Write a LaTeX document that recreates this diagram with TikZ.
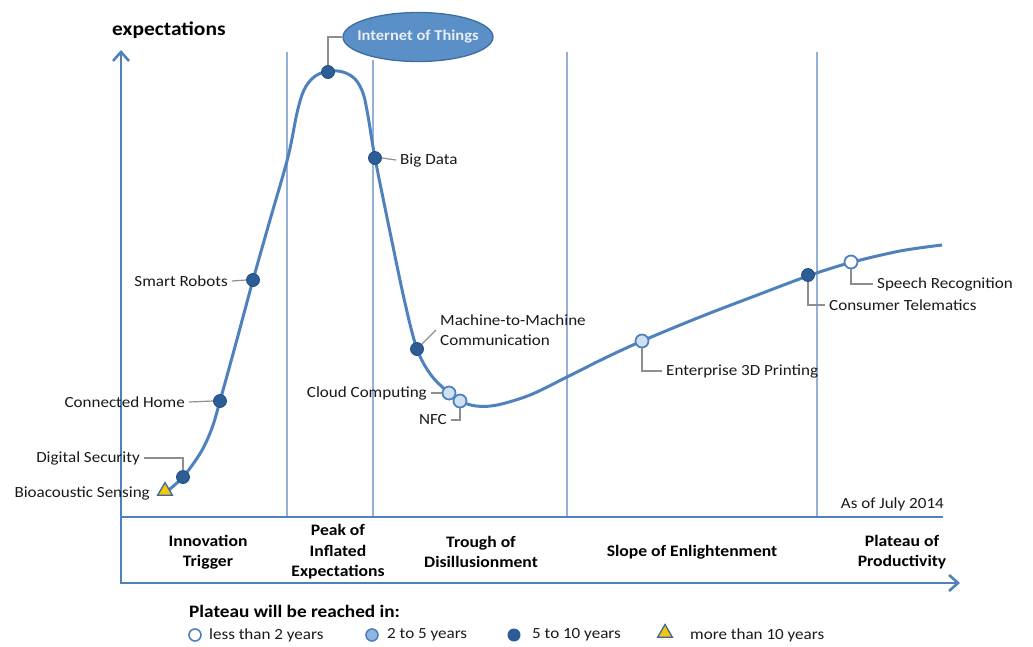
\documentclass[tikz,border=0pt]{standalone}
\usepackage{fontspec}
\setmainfont{Carlito}[FakeStretch=1.1]
\usetikzlibrary{arrows.meta,shapes.geometric}
\definecolor{axisblue}{HTML}{4F81BD}
\definecolor{phaseblue}{HTML}{95B0D6}
\definecolor{dotblue}{HTML}{2C5D94}
\definecolor{dotedge}{HTML}{24507F}
\definecolor{lightfill}{HTML}{CFE0F3}
\definecolor{midfill}{HTML}{8DB4E2}
\definecolor{leadgrey}{HTML}{8E8E8E}
\definecolor{ellfill}{HTML}{5B8FC8}
\definecolor{elledge}{HTML}{3D6E9E}
\definecolor{trifill}{HTML}{F2C80F}
\tikzset{
  axis/.style={draw=axisblue, line width=2.6pt},
  phase/.style={draw=phaseblue, line width=1.3pt},
  hype/.style={draw=axisblue, line width=3pt, line join=round},
  lead/.style={draw=leadgrey, line width=1.2pt},
  lbl/.style={font=\fontsize{15.5}{17}\selectfont, text=black!90, inner ysep=1pt, inner xsep=4pt},
  phaselbl/.style={font=\bfseries\fontsize{16}{20.5}\selectfont, align=center, inner sep=0pt},
  darkdot/.style={circle, fill=dotblue, draw=dotedge, line width=0.8pt, minimum size=13pt, inner sep=0pt},
  opendot/.style={circle, fill=white, draw=axisblue, line width=1.8pt, minimum size=13pt, inner sep=0pt},
  lightdot/.style={circle, fill=lightfill, draw=axisblue, line width=1.8pt, minimum size=13pt, inner sep=0pt},
  middot/.style={circle, fill=midfill, draw=axisblue, line width=1.8pt, minimum size=13pt, inner sep=0pt},
  tri/.style={regular polygon, regular polygon sides=3, fill=trifill, draw=axisblue!80!black, line width=1.3pt, minimum size=17pt, inner sep=0pt},
}
\begin{document}
\begin{tikzpicture}[x=1pt,y=-1pt]
\useasboundingbox (0,0) rectangle (1033,646);

% phase separators
\draw[phase] (287,52) -- (287,517);
\draw[phase] (373,60) -- (373,517);
\draw[phase] (567,52) -- (567,517);
\draw[phase] (817,52) -- (817,517);

% axes and phase band
\draw[axis, -{Straight Barb[length=9pt,width=16pt]}] (121,584) -- (121,50);
\draw[axis, -{Straight Barb[length=9pt,width=16pt]}] (120,583) -- (960,583);
\draw[axis] (121,517) -- (943,517);

\node[font=\bfseries\fontsize{19.5}{22}\selectfont, anchor=base west, inner sep=0pt] (ylabel) at (112,35) {expectations};

% hype curve
\draw[hype] plot[smooth, tension=0.55] coordinates {
  (165,493) (183,477) (201,452) (212,428) (220,401) (236,343) (253,280)
  (270,220) (288,157) (297,113) (304,90) (314,77) (328,71) (343,72)
  (355,79) (363,93) (368,116) (375,158) (390,232) (405,303) (417,349)
  (431,375) (449,393) (460,401) (476,406) (497,405) (530,395) (567,377)
  (605,358) (642,341) (700,317) (760,294) (808,276) (849,263) (900,251) (942,245)};

% technologies on the curve
\node[tri] (bio) at (165,491) {};
\node[darkdot] (dsec) at (183,477) {};
\node[darkdot] (chome) at (220,401) {};
\node[darkdot] (robots) at (253,280) {};
\node[darkdot] (iot) at (328,72) {};
\node[darkdot] (bigdata) at (375,158) {};
\node[darkdot] (m2m) at (417,349) {};
\node[lightdot] (cloud) at (449,393) {};
\node[lightdot] (nfc) at (460,401) {};
\node[lightdot] (print3d) at (642,341) {};
\node[darkdot] (telem) at (808,275) {};
\node[opendot] (speech) at (851,262) {};

% labels
\node[ellipse, fill=ellfill, draw=elledge, line width=1.3pt, minimum width=150pt, minimum height=49pt, inner sep=0pt] (iotlbl) at (418,37) {};
\node[font=\bfseries\fontsize{15}{17}\selectfont, text=white!85!ellfill, inner sep=0pt] (iottext) at (iotlbl.center) {Internet of Things};
\node[lbl, anchor=west] (bigdatalbl) at (396,160) {Big Data};
\node[lbl, anchor=east] (robotslbl) at (232,281) {Smart Robots};
\node[lbl, anchor=east] (chomelbl) at (189,402) {Connected Home};
\node[lbl, anchor=east] (dseclbl) at (144,458) {Digital Security};
\node[lbl, anchor=east] (biolbl) at (154,493) {Bioacoustic Sensing};
\node[lbl, anchor=west, align=left, font=\fontsize{15.5}{20}\selectfont] (m2mlbl) at (436,330) {Machine-to-Machine\\Communication};
\node[lbl, anchor=east] (cloudlbl) at (431,393) {Cloud Computing};
\node[lbl, anchor=east] (nfclbl) at (451,420) {NFC};
\node[lbl, anchor=west] (print3dlbl) at (662,371) {Enterprise 3D Printing};
\node[lbl, anchor=west] (telemlbl) at (825,305) {Consumer Telematics};
\node[lbl, anchor=west] (speechlbl) at (873,284) {Speech Recognition};
\node[lbl, anchor=east] (datelbl) at (948,504) {As of July 2014};

% leader lines
\draw[lead] (iot.north) |- (iotlbl.west);
\draw[lead] (bigdata.east) -- (bigdatalbl.west);
\draw[lead] (robotslbl.east) -- (robots.west);
\draw[lead] (chomelbl.east) -- (chome.west);
\draw[lead] (dseclbl.east) -| (dsec.north);
\draw[lead] (m2m.north east) -- (m2mlbl.west);
\draw[lead] (cloudlbl.east) -- (cloud.west);
\draw[lead] (nfclbl.east) -| (nfc.south);
\draw[lead] (print3d.south) |- (print3dlbl.west);
\draw[lead] (telem.south) |- (telemlbl.west);
\draw[lead] (speech.south) |- (speechlbl.west);

% phase names
\node[phaselbl] (ph1) at (208,552) {Innovation\\Trigger};
\node[phaselbl] (ph2) at (338,552) {Peak of\\Inflated\\Expectations};
\node[phaselbl] (ph3) at (481,552) {Trough of\\Disillusionment};
\node[phaselbl] (ph4) at (692,552) {Slope of Enlightenment};
\node[phaselbl] (ph5) at (902,552) {Plateau of\\Productivity};

% legend
\node[font=\bfseries\fontsize{17.5}{20}\selectfont, anchor=west, inner sep=0pt] (legtitle) at (189,611) {Plateau will be reached in:};
\node[opendot, minimum size=12pt, line width=1.6pt] (leg1) at (195,635) {};
\node[lbl, anchor=west] (leg1t) at (205,635) {less than 2 years};
\node[middot, minimum size=12pt, line width=1.6pt] (leg2) at (372,635) {};
\node[lbl, anchor=west] (leg2t) at (383,635) {2 to 5 years};
\node[darkdot, minimum size=13pt, draw=none] (leg3) at (514,635) {};
\node[lbl, anchor=west] (leg3t) at (528,635) {5 to 10 years};
\node[tri] (leg4) at (665,633) {};
\node[lbl, anchor=west] (leg4t) at (686,635) {more than 10 years};
\end{tikzpicture}
\end{document}
